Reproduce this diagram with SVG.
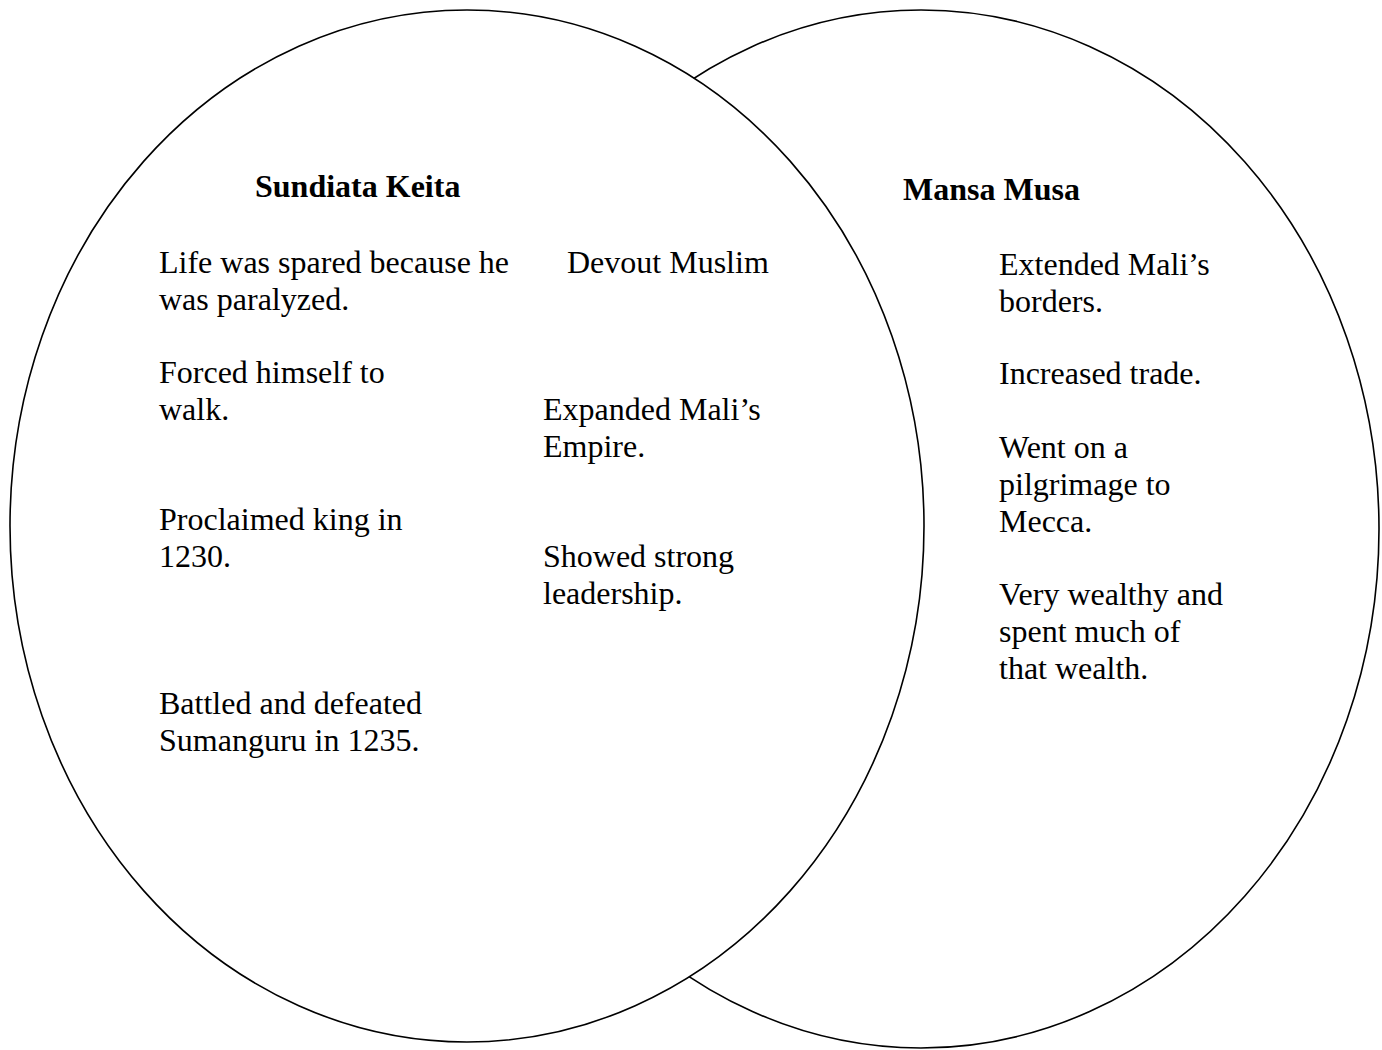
<svg xmlns="http://www.w3.org/2000/svg" width="1382" height="1050" viewBox="0 0 1382 1050">
<style>
.c{fill:#fff;stroke:#000;stroke-width:1.6}
text{font-family:"Liberation Serif","Times New Roman",serif;font-size:32px;fill:#000}
.h{font-weight:bold}
</style>
<rect width="1382" height="1050" fill="#fff"/>
<g id="circle-right"><ellipse class="c" cx="921" cy="529" rx="458" ry="519"/></g>
<g id="circle-left"><ellipse class="c" cx="467" cy="526" rx="457" ry="516"/></g>
<g id="sundiata">
<text class="h" x="255" y="197">Sundiata Keita</text>
<text x="159" y="273">Life was spared because he</text>
<text x="159" y="310">was paralyzed.</text>
<text x="159" y="383">Forced himself to</text>
<text x="159" y="420">walk.</text>
<text x="159" y="530">Proclaimed king in</text>
<text x="159" y="567">1230.</text>
<text x="159" y="714">Battled and defeated</text>
<text x="159" y="751">Sumanguru in 1235.</text>
</g>
<g id="both">
<text x="567" y="273">Devout Muslim</text>
<text x="543" y="420">Expanded Mali’s</text>
<text x="543" y="457">Empire.</text>
<text x="543" y="567">Showed strong</text>
<text x="543" y="604">leadership.</text>
</g>
<g id="mansa">
<text class="h" x="903" y="200">Mansa Musa</text>
<text x="999" y="275">Extended Mali’s</text>
<text x="999" y="312">borders.</text>
<text x="999" y="384">Increased trade.</text>
<text x="999" y="458">Went on a</text>
<text x="999" y="495">pilgrimage to</text>
<text x="999" y="532">Mecca.</text>
<text x="999" y="605">Very wealthy and</text>
<text x="999" y="642">spent much of</text>
<text x="999" y="679">that wealth.</text>
</g>
<g id="connectors"></g>
</svg>
